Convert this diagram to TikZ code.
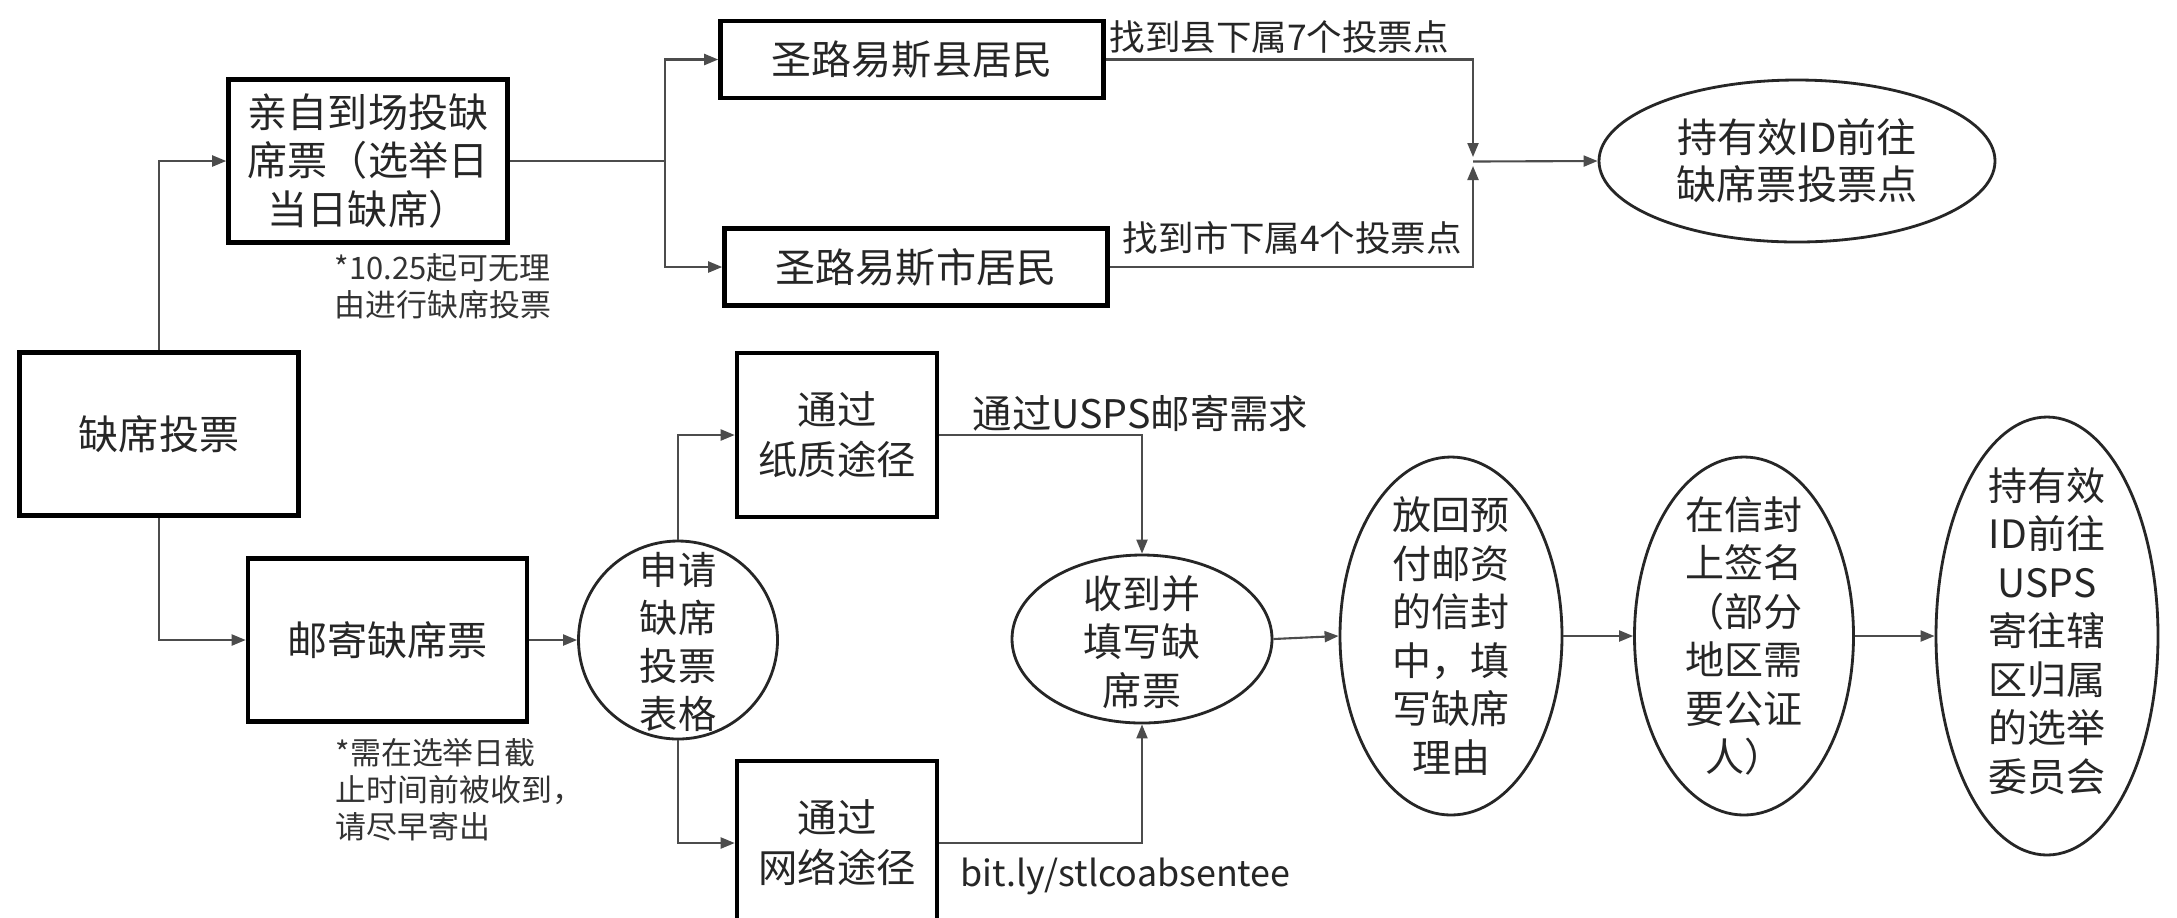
\documentclass[tikz,border=0pt]{standalone}
\usepackage{fontspec}
\setmainfont{Noto Sans CJK SC}
\usetikzlibrary{positioning, arrows.meta, shapes.geometric}

\begin{document}
\begin{tikzpicture}[x=1mm, y=-1mm, >=Triangle]

\tikzset{
  block/.style={
    rectangle, draw=black, line width=1.3pt, align=center,
    minimum width=27.9mm, minimum height=16.3mm,
    inner sep=0pt, text=black!85, font=\fontsize{11.4}{13.7}\selectfont
  },
  wideblock/.style={block, minimum width=38.3mm, minimum height=7.7mm},
  smallblock/.style={block, minimum width=20mm, minimum height=16.4mm,
    font=\fontsize{11.2}{14.2}\selectfont},
  oval/.style={ellipse, draw=black!85, line width=0.8pt, inner sep=0pt},
  ovaltext/.style={align=center, inner sep=0pt, text=black!85,
    font=\fontsize{11.1}{13.8}\selectfont},
  arrow/.style={-{Triangle[length=1.4mm, width=1.1mm]}, draw=black!70, line width=0.6pt},
  link/.style={draw=black!70, line width=0.6pt},
  note/.style={anchor=west, align=left, inner sep=0pt, text=black!80,
    font=\fontsize{8.8}{10.5}\selectfont},
  lbl/.style={anchor=west, inner sep=0pt, text=black!85, font=\fontsize{10.1}{12}\selectfont},
  lblbig/.style={lbl, font=\fontsize{11.2}{13}\selectfont}
}

\path[use as bounding box, fill=white] (0,0) rectangle (217.7,91.7);

% ==========================
% In person (top row)
% ==========================
\node[block] (absentee) at (15.9,43.4) {缺席投票};
\node[block] (inperson) at (36.8,16.1) {亲自到场投缺\\席票（选举日\\当日缺席）};
\node[note] (note1) at (33.4,28.65) {*10.25起可无理\\由进行缺席投票};

\node[wideblock] (county) at (91.2,5.95) {圣路易斯县居民};
\node[wideblock] (city) at (91.6,26.7) {圣路易斯市居民};
\node[lbl] (lcounty) at (110.9,3.7) {找到县下属7个投票点};
\node[lbl] (lcity) at (112.2,23.8) {找到市下属4个投票点};

\node[oval, minimum width=39.6mm, minimum height=16.2mm] (vote) at (179.7,16.1) {};
\node[ovaltext, font=\fontsize{11.4}{13.4}\selectfont] (voteT) at (vote) {持有效ID前往\\缺席票投票点};

\coordinate (fork1) at (66.5,16.1);
\coordinate (jct) at (147.3,16.15);
\coordinate (jctup) at (147.3,15.7);
\coordinate (jctdn) at (147.3,16.6);

\draw[arrow] (absentee.north) |- (inperson.west);
\draw[link] (inperson.east) -- (fork1);
\draw[arrow] (fork1) |- (county.west);
\draw[arrow] (fork1) |- (city.west);
\draw[arrow] (county.east) -| (jctup);
\draw[arrow] (city.east) -| (jctdn);
\draw[arrow] (jct) -- (vote.west);

% ==========================
% By mail (bottom row)
% ==========================
\node[block] (mail) at (38.75,64) {邮寄缺席票};
\node[note] (note2) at (33.5,79.0) {*需在选举日截\\止时间前被收到，\\请尽早寄出};

\node[oval, minimum width=19.9mm, minimum height=19.8mm] (apply) at (67.8,64) {};
\node[ovaltext, font=\fontsize{10.9}{13.6}\selectfont] (applyT) at (67.8,64.2) {申请\\缺席\\投票\\表格};

\node[smallblock] (paper) at (83.7,43.5) {通过\\纸质途径};
\node[smallblock] (online) at (83.7,84.3) {通过\\网络途径};
\node[lblbig] (lusps) at (97.2,41.3) {通过USPS邮寄需求};
\node[lbl, font=\fontsize{10.2}{12}\selectfont] (llink) at (96.0,87.6) {bit.ly/stlcoabsentee};

\node[oval, minimum width=26mm, minimum height=16.8mm] (recv) at (114.2,63.9) {};
\node[ovaltext] (recvT) at (114.2,64.2) {收到并\\填写缺\\席票};

\node[oval, minimum width=22.2mm, minimum height=35.8mm] (envelope) at (145.1,63.6) {};
\node[ovaltext] (envelopeT) at (envelope) {放回预\\付邮资\\的信封\\中，填\\写缺席\\理由};

\node[oval, minimum width=21.9mm, minimum height=35.8mm] (sign) at (174.4,63.6) {};
\node[ovaltext] (signT) at (sign) {在信封\\上签名\\（部分\\地区需\\要公证\\人）};

\node[oval, minimum width=22.2mm, minimum height=43.8mm] (final) at (204.7,63.6) {};
\node[ovaltext] (finalT) at (204.7,63.1) {持有效\\ID前往\\USPS\\寄往辖\\区归属\\的选举\\委员会};

\draw[arrow] (absentee.south) |- (mail.west);
\draw[arrow] (mail.east) -- (apply.west);
\draw[arrow] (apply.north) |- (paper.west);
\draw[arrow] (apply.south) |- (online.west);
\draw[arrow] (paper.east) -| (recv.north);
\draw[arrow] (online.east) -| (recv.south);
\draw[arrow] (recv.east) -- (envelope.west);
\draw[arrow] (envelope.east) -- (sign.west);
\draw[arrow] (sign.east) -- (final.west);

\end{tikzpicture}
\end{document}
